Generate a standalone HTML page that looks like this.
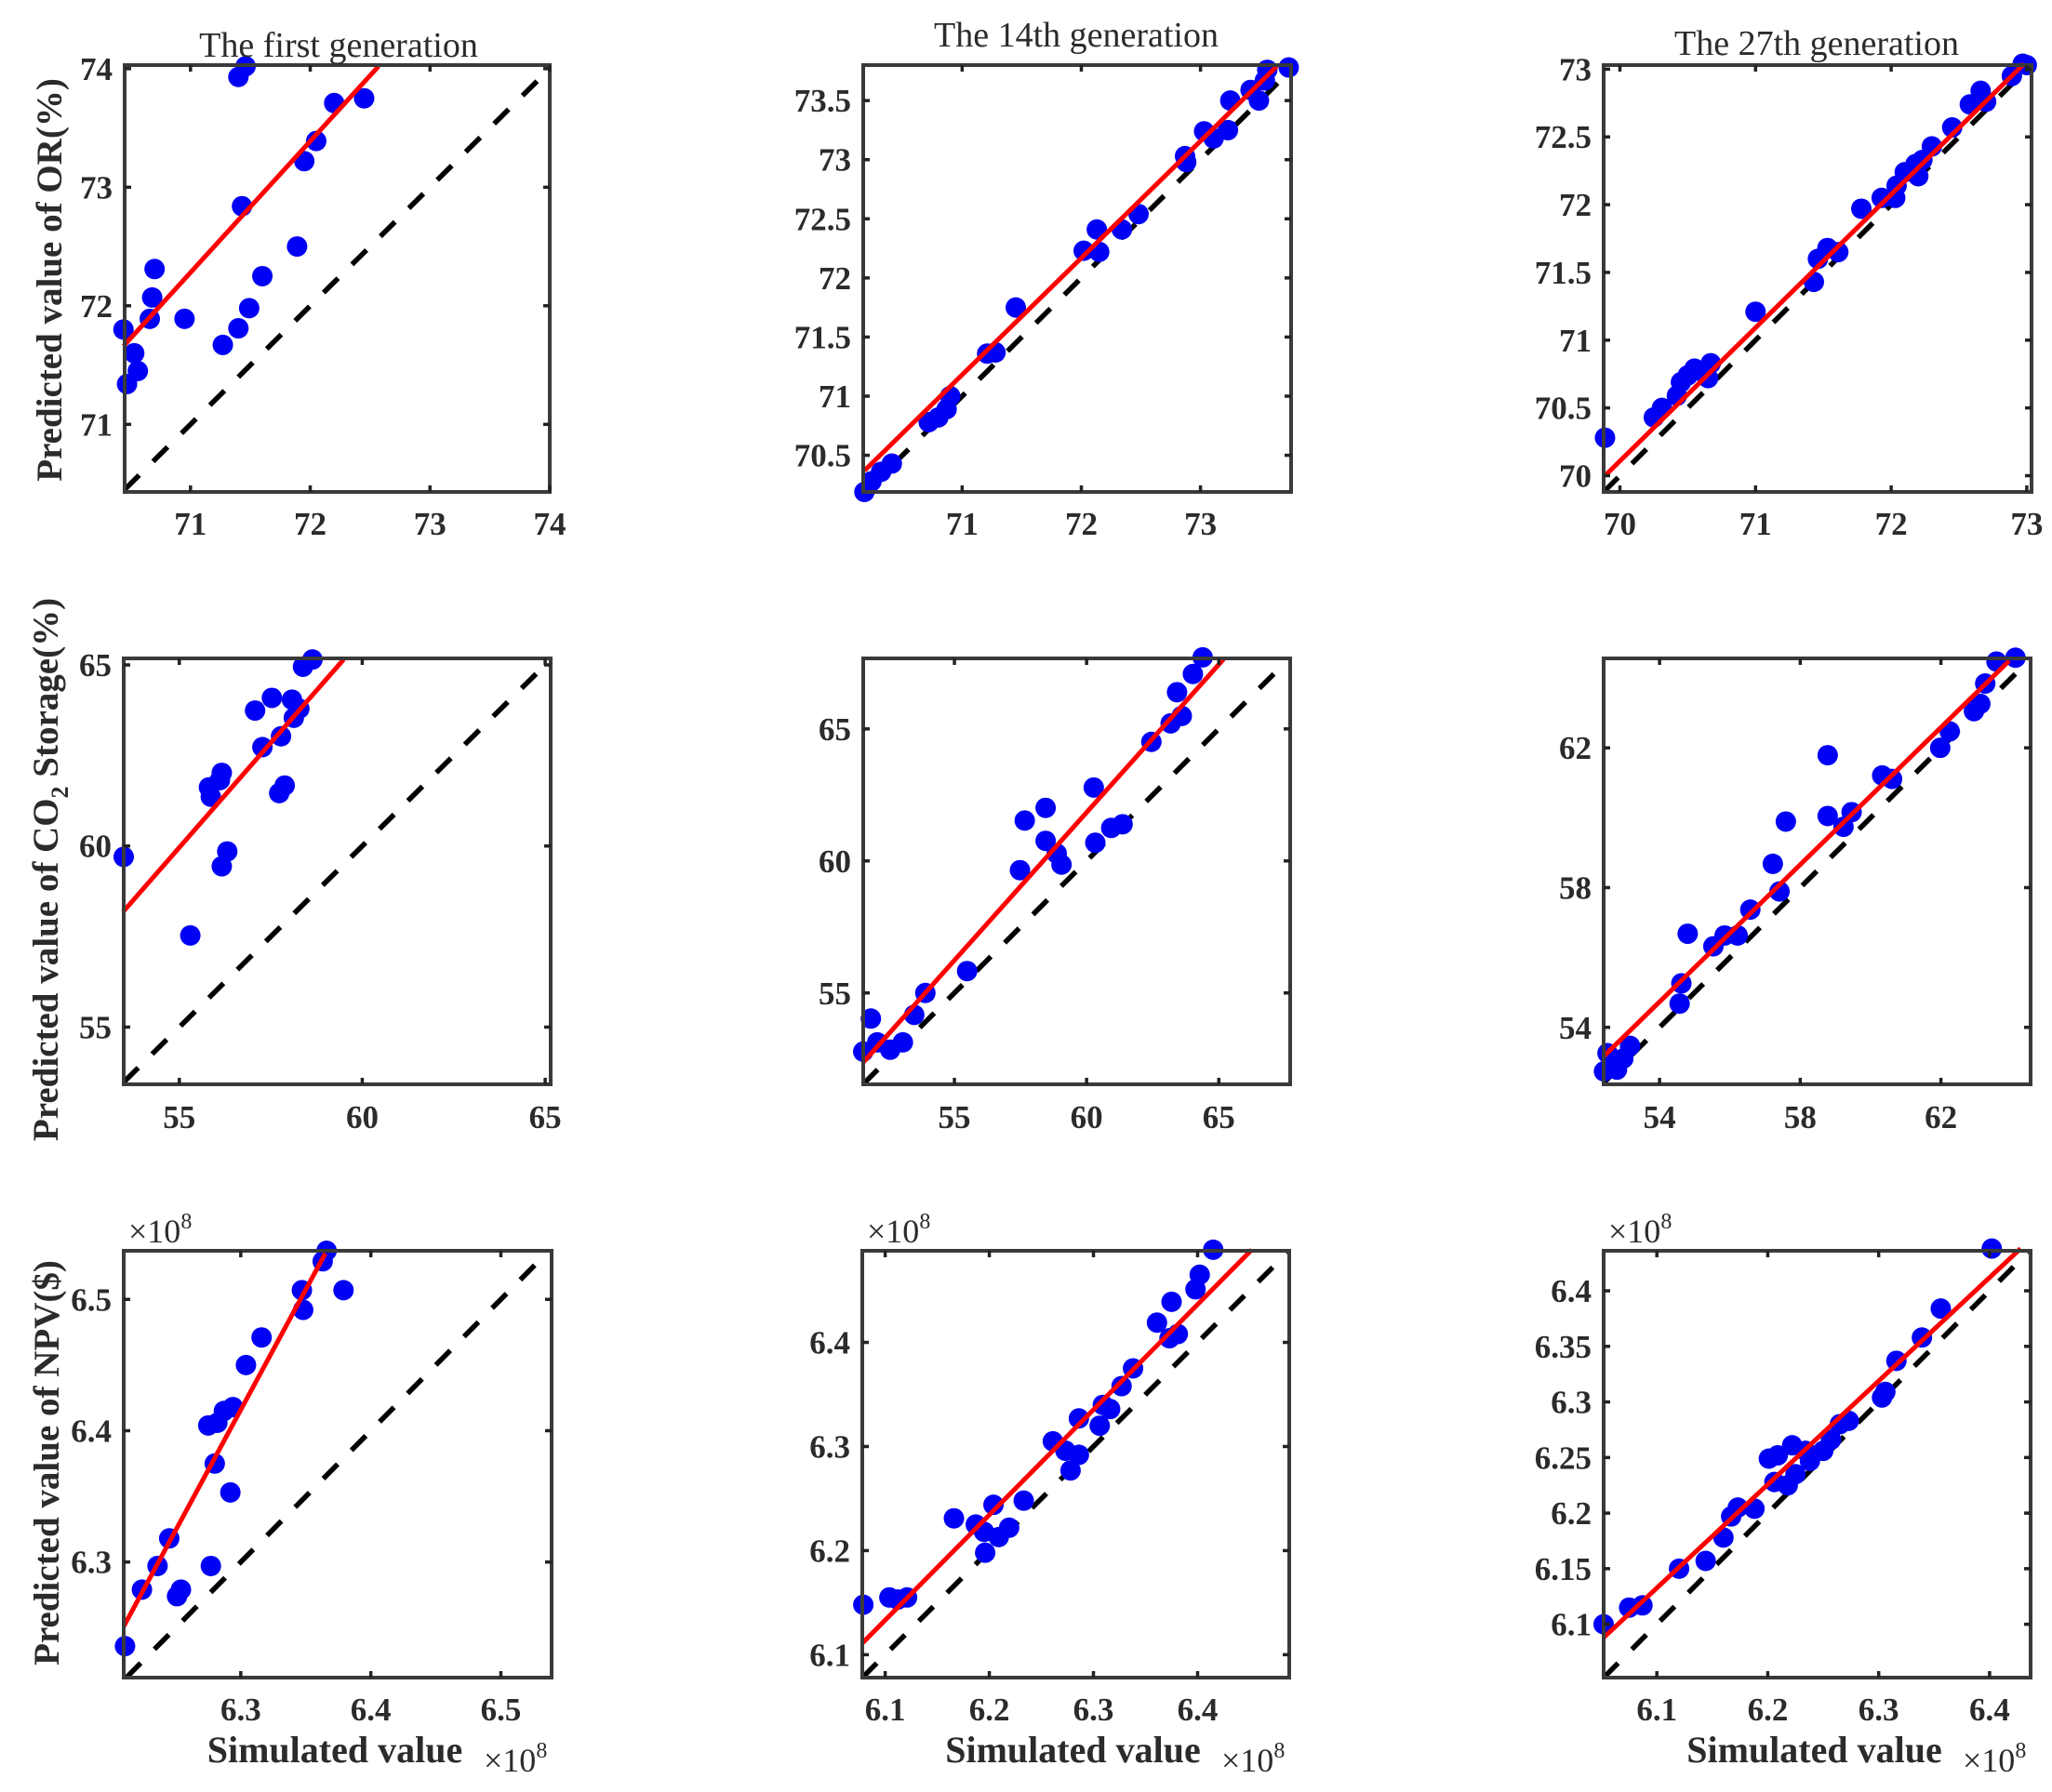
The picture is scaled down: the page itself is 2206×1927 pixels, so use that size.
<!DOCTYPE html>
<html><head><meta charset="utf-8"><title>Predicted vs simulated values</title>
<style>html,body{margin:0;padding:0;background:#fff}svg{display:block}
text{font-family:"Liberation Serif",serif;fill:#2b2b2b}</style></head>
<body>
<svg id="fig" width="2206" height="1927" viewBox="0 0 2206 1927" xmlns="http://www.w3.org/2000/svg"></svg>
<script>
// ---------- data ----------
const p1x=[71.40,71.46,72.20,72.45,72.05,71.95,71.43,71.89,70.70,71.60,70.68,70.66,70.95,71.49,71.40,71.27,70.44,70.53,70.56,70.47];
const p1y=[73.93,74.02,73.71,73.75,73.39,73.22,72.84,72.50,72.31,72.25,72.07,71.89,71.89,71.98,71.81,71.67,71.80,71.60,71.45,71.34];
const p1fit=[70.44,71.66,72.57,74.02];
const p2x=[70.18,70.24,70.32,70.41,70.72,70.80,70.87,70.90,71.21,71.28,71.45,72.02,72.13,72.15,72.34,72.48,72.87,72.88,73.03,73.11,73.23,73.25,73.42,73.49,73.54,73.56,73.74];
const p2y=[70.19,70.28,70.36,70.43,70.78,70.82,70.89,71.00,71.36,71.37,71.75,72.23,72.41,72.22,72.41,72.54,73.03,72.98,73.24,73.18,73.25,73.50,73.59,73.50,73.67,73.76,73.78];
const p2fit=[70.18,70.37,73.64,73.79];
const p3x=[69.89,70.25,70.31,70.42,70.45,70.50,70.55,70.60,70.65,70.67,71.00,71.43,71.46,71.53,71.61,71.78,71.93,72.03,72.04,72.10,72.18,72.20,72.23,72.30,72.45,72.58,72.66,72.70,72.89,72.97,73.00];
const p3y=[70.28,70.43,70.50,70.59,70.69,70.74,70.79,70.77,70.72,70.83,71.21,71.43,71.60,71.68,71.65,71.97,72.05,72.05,72.14,72.24,72.30,72.21,72.33,72.43,72.57,72.74,72.84,72.76,72.95,73.04,73.03];
const p3fit=[69.89,70.00,72.98,73.04];
const p4x=[53.48,55.30,56.16,56.31,55.81,55.86,56.11,56.16,57.07,57.27,57.53,57.78,57.73,57.88,58.08,58.13,58.28,58.38,58.64];
const p4y=[59.70,57.53,59.44,59.85,61.62,61.36,61.82,62.02,63.74,62.73,64.09,63.03,61.46,61.67,64.04,63.54,63.79,64.95,65.15];
const p4fit=[53.46,58.18,59.49,65.15];
const p5x=[51.55,51.84,52.08,52.57,53.05,53.48,53.90,55.48,57.48,57.66,58.45,58.45,58.87,59.05,60.27,60.33,60.93,61.36,62.45,63.18,63.60,63.42,64.02,64.39];
const p5y=[52.78,54.03,53.13,52.85,53.13,54.17,55.00,55.83,59.65,61.53,62.01,60.76,60.28,59.86,62.78,60.69,61.25,61.39,64.51,65.21,65.49,66.39,67.08,67.71];
const p5fit=[51.54,52.36,65.18,67.64];
const p6x=[52.42,52.52,52.79,52.97,53.16,54.62,54.57,54.80,55.53,55.85,56.22,56.58,57.22,57.41,57.59,58.78,58.78,59.23,59.46,60.33,60.61,61.98,62.25,62.94,63.12,63.26,63.58,64.12];
const p6y=[52.74,53.26,52.79,53.11,53.47,55.26,54.68,56.68,56.32,56.63,56.63,57.37,58.68,57.89,59.89,61.79,60.05,59.74,60.16,61.21,61.11,62.00,62.47,63.05,63.26,63.84,64.47,64.58];
const p6fit=[52.42,53.18,63.94,64.49];
const p7x=[6.211,6.224,6.236,6.245,6.251,6.254,6.277,6.275,6.282,6.287,6.294,6.280,6.292,6.304,6.316,6.347,6.348,6.363,6.366,6.379];
const p7y=[6.236,6.279,6.297,6.318,6.274,6.279,6.297,6.404,6.406,6.415,6.418,6.375,6.353,6.450,6.471,6.507,6.492,6.529,6.537,6.507];
const p7fit=[6.210,6.251,6.365,6.535];
const p8x=[6.079,6.104,6.112,6.121,6.166,6.187,6.195,6.196,6.204,6.209,6.219,6.233,6.261,6.273,6.278,6.286,6.286,6.306,6.309,6.316,6.327,6.338,6.361,6.373,6.381,6.375,6.398,6.402,6.415];
const p8y=[6.148,6.155,6.153,6.155,6.231,6.225,6.218,6.198,6.244,6.213,6.222,6.248,6.305,6.296,6.277,6.292,6.327,6.320,6.340,6.336,6.358,6.375,6.419,6.404,6.408,6.439,6.451,6.465,6.489];
const p8fit=[6.078,6.111,6.452,6.489];
const p9x=[6.052,6.075,6.087,6.120,6.144,6.160,6.167,6.173,6.188,6.201,6.206,6.209,6.218,6.222,6.225,6.234,6.238,6.250,6.257,6.265,6.273,6.303,6.306,6.316,6.339,6.356,6.402];
const p9y=[6.100,6.115,6.117,6.150,6.157,6.178,6.197,6.205,6.204,6.249,6.228,6.252,6.225,6.261,6.235,6.256,6.247,6.256,6.266,6.280,6.283,6.304,6.309,6.337,6.358,6.384,6.438];
const p9fit=[6.052,6.088,6.428,6.438];

const xt1=[71,72,73,74], yt1=[71,72,73,74];
const xt2=[71,72,73], yt2=[70.5,71,71.5,72,72.5,73,73.5];
const xt3=[70,71,72,73], yt3=[70,70.5,71,71.5,72,72.5,73];
const xt4=[55,60,65], yt4=[55,60,65];
const xt5=[55,60,65], yt5=[55,60,65];
const xt6=[54,58,62], yt6=[54,58,62];
const xt7=[6.3,6.4,6.5], yt7=[6.3,6.4,6.5];
const xt8=[6.1,6.2,6.3,6.4], yt8=[6.1,6.2,6.3,6.4];
const xt9=[6.1,6.2,6.3,6.4], yt9=[6.1,6.15,6.2,6.25,6.3,6.35,6.4];
const titles=["The first generation","The 14th generation","The 27th generation"];

// ---------- layout ----------
const panels=[
 {n:1,xs:p1x,ys:p1y,fit:p1fit,xt:xt1,yt:yt1,box:[134,70,591,529],xr:[70.45,74.0],yr:[70.43,74.03],row:0},
 {n:2,xs:p2x,ys:p2y,fit:p2fit,xt:xt2,yt:yt2,box:[928,70,1388,529],xr:[70.17,73.76],yr:[70.19,73.80],row:0},
 {n:3,xs:p3x,ys:p3y,fit:p3fit,xt:xt3,yt:yt3,box:[1724,70,2184,529],xr:[69.88,73.035],yr:[69.88,73.03],row:0},
 {n:4,xs:p4x,ys:p4y,fit:p4fit,xt:xt4,yt:yt4,box:[133,708,592,1166],xr:[53.48,65.15],yr:[53.42,65.18],row:1},
 {n:5,xs:p5x,ys:p5y,fit:p5fit,xt:xt5,yt:yt5,box:[928,708,1387,1166],xr:[51.55,67.7],yr:[51.54,67.67],row:1},
 {n:6,xs:p6x,ys:p6y,fit:p6fit,xt:xt6,yt:yt6,box:[1724,708,2183,1166],xr:[52.41,64.55],yr:[52.37,64.56],row:1},
 {n:7,xs:p7x,ys:p7y,fit:p7fit,xt:xt7,yt:yt7,box:[133,1345,593,1804],xr:[6.210,6.539],yr:[6.212,6.537],row:2},
 {n:8,xs:p8x,ys:p8y,fit:p8fit,xt:xt8,yt:yt8,box:[927,1345,1386,1804],xr:[6.078,6.488],yr:[6.078,6.488],row:2},
 {n:9,xs:p9x,ys:p9y,fit:p9fit,xt:xt9,yt:yt9,box:[1724,1345,2183,1804],xr:[6.052,6.437],yr:[6.052,6.436],row:2}
];
const xLabelBase=[575,1213,1850];
const NS="http://www.w3.org/2000/svg";
const svg=document.getElementById('fig');
function mk(tag,attrs,parent){const e=document.createElementNS(NS,tag);for(const k in attrs)e.setAttribute(k,attrs[k]);(parent||svg).appendChild(e);return e;}
function fmt(v){return String(+v.toFixed(3));}

panels.forEach((p,i)=>{
  const [L,T,R,B]=p.box;
  const sx=v=>L+(v-p.xr[0])/(p.xr[1]-p.xr[0])*(R-L);
  const sy=v=>B-(v-p.yr[0])/(p.yr[1]-p.yr[0])*(B-T);
  const g=mk('g',{});
  
  
  const cid='clip'+p.n;
  const cp=mk('clipPath',{id:cid},g);
  mk('rect',{x:L,y:T,width:R-L,height:B-T},cp);
  const lo=Math.max(p.xr[0],p.yr[0]), hi=Math.min(p.xr[1],p.yr[1]);
  const d=mk('line',{x1:sx(lo),y1:sy(lo),x2:sx(hi),y2:sy(hi),stroke:'#000','stroke-width':5.5,'stroke-dasharray':'22 21','clip-path':'url(#'+cid+')'},g);
  
  
  p.xs.forEach((xv,k)=>{
    const c=mk('circle',{cx:sx(xv),cy:sy(p.ys[k]),r:11,fill:'#0000f5'},g);
    
    
  });
  const f=mk('line',{x1:sx(p.fit[0]),y1:sy(p.fit[1]),x2:sx(p.fit[2]),y2:sy(p.fit[3]),stroke:'#ff0000','stroke-width':5},g);
  
  
  const bx=mk('rect',{x:L,y:T,width:R-L,height:B-T,fill:'none',stroke:'#3a3a3a','stroke-width':4},g);
  
  
  p.xt.forEach(t=>{
    const X=sx(t);
    mk('line',{x1:X,y1:B,x2:X,y2:B-7,stroke:'#222','stroke-width':3.5},g);
    mk('line',{x1:X,y1:T,x2:X,y2:T+7,stroke:'#222','stroke-width':3.5},g);
    const tl=mk('text',{x:X,y:xLabelBase[p.row],'text-anchor':'middle','font-size':35,'font-weight':'bold'},g);
    tl.textContent=fmt(t);
    
    
  });
  p.yt.forEach(t=>{
    const Y=sy(t);
    mk('line',{x1:L,y1:Y,x2:L+7,y2:Y,stroke:'#222','stroke-width':3.5},g);
    mk('line',{x1:R,y1:Y,x2:R-7,y2:Y,stroke:'#222','stroke-width':3.5},g);
    const tl=mk('text',{x:L-13,y:Y+12,'text-anchor':'end','font-size':35,'font-weight':'bold'},g);
    tl.textContent=fmt(t);
    
    
  });
  if(p.row===2){
    const e1=mk('text',{x:L+5,y:1336,'font-size':36},g);
    e1.innerHTML='×10<tspan dy="-15" font-size="24">8</tspan>';
    
    
    const xl=mk('text',{x:(L+R)/2-3,y:1895,'text-anchor':'middle','font-size':40,'font-weight':'bold'},g);
    xl.textContent='Simulated value';
    
    
    const e2=mk('text',{x:R-73,y:1905,'font-size':36},g);
    e2.innerHTML='×10<tspan dy="-15" font-size="24">8</tspan>';
    
    
  }
});
[[364,61],[1157,50],[1953,59]].forEach((pos,i)=>{
  const t=mk('text',{x:pos[0],y:pos[1],'text-anchor':'middle','font-size':38});
  t.textContent=titles[i];
  
  
});
const y1=mk('text',{transform:'translate(66,301) rotate(-90)','text-anchor':'middle','font-size':39,'font-weight':'bold'});
y1.textContent='Predicted value of OR(%)';


const y2=mk('text',{transform:'translate(62,935) rotate(-90)','text-anchor':'middle','font-size':39,'font-weight':'bold'});
y2.innerHTML='Predicted value of CO<tspan dy="11" font-size="26">2</tspan><tspan dy="-11"> Storage(%)</tspan>';


const y3=mk('text',{transform:'translate(63,1573) rotate(-90)','text-anchor':'middle','font-size':39,'font-weight':'bold'});
y3.textContent='Predicted value of NPV($)';


</script>
</body></html>
